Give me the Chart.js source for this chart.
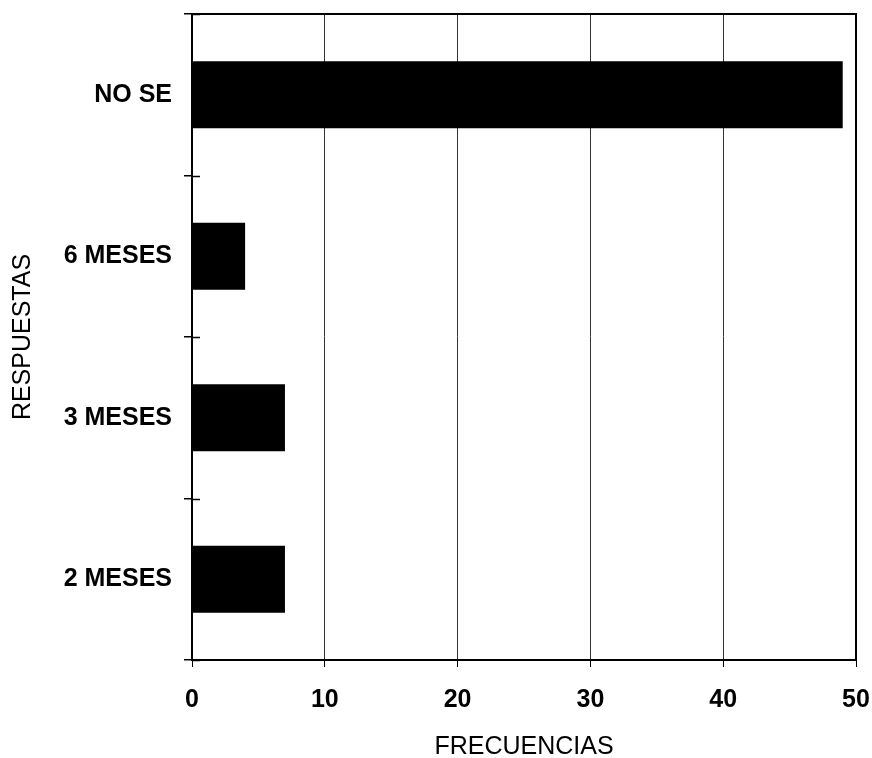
<!DOCTYPE html>
<html>
<head>
<meta charset="utf-8">
<script src="https://cdn.jsdelivr.net/npm/chart.js@4/dist/chart.umd.min.js"></script>
<style>
  html, body { margin: 0; padding: 0; background: #fff; }
  #wrap { width: 872px; height: 758px; position: relative; }
</style>
</head>
<body>
<div id="wrap"><canvas id="c" width="872" height="758"></canvas></div>
<script>
const categories = ["NO SE", "6 MESES", "3 MESES", "2 MESES"];
const frequencies = [49, 4, 7, 7];
const xTicks = [0, 10, 20, 30, 40, 50];
const xTitle = "FRECUENCIAS";
const yTitle = "RESPUESTAS";

const FONT = "'Liberation Sans', Arial, sans-serif";

const frameAndTicks = {
  id: 'frameAndTicks',
  afterDraw(chart) {
    const ctx = chart.ctx;
    const a = chart.chartArea;
    const y = chart.scales.y;
    ctx.save();
    ctx.strokeStyle = '#000';
    ctx.lineWidth = 2;
    ctx.beginPath();
    ctx.moveTo(a.left, a.top);
    ctx.lineTo(a.right, a.top);
    ctx.lineTo(a.right, a.bottom);
    ctx.stroke();
    ctx.lineWidth = 1.5;
    ctx.beginPath();
    for (let i = 0; i <= categories.length; i++) {
      const py = Math.round(y.getPixelForValue(i - 0.5)) + 0.5;
      ctx.moveTo(a.left, py);
      ctx.lineTo(a.left + 8, py);
    }
    ctx.stroke();
    ctx.restore();
  }
};

new Chart(document.getElementById('c'), {
  type: 'bar',
  data: {
    labels: categories,
    datasets: [{
      data: frequencies,
      backgroundColor: '#000',
      borderWidth: 0,
      barPercentage: 0.415,
      categoryPercentage: 1.0
    }]
  },
  options: {
    indexAxis: 'y',
    responsive: false,
    animation: false,
    devicePixelRatio: 1,
    layout: { padding: { top: 14, right: 16, left: 0, bottom: 0 } },
    plugins: { legend: { display: false }, tooltip: { enabled: false } },
    scales: {
      x: {
        type: 'linear',
        min: xTicks[0],
        max: xTicks[xTicks.length - 1],
        afterBuildTicks(s) { s.ticks = xTicks.map(v => ({ value: v })); },
        afterFit(s) { s.height = 98; s.paddingLeft = 0; s.paddingRight = 0; },
        grid: { color: '#333', lineWidth: 1, tickLength: 7, tickColor: '#000' },
        border: { color: '#000', width: 2 },
        ticks: { color: '#000', font: { family: FONT, size: 25, weight: 'bold' }, padding: 18 },
        title: { display: true, text: xTitle, color: '#000', font: { family: FONT, size: 25, lineHeight: 0.9 }, padding: { top: 0, bottom: 0 } }
      },
      y: {
        type: 'category',
        offset: true,
        afterFit(s) { s.width = 192; s.paddingTop = 0; s.paddingBottom = 0; },
        grid: { offset: true, drawOnChartArea: false, tickLength: 8, color: '#000', lineWidth: 1.5 },
        border: { color: '#000', width: 2 },
        ticks: { color: '#000', font: { family: FONT, size: 25, weight: 'bold' }, padding: 12 },
        title: { display: true, text: yTitle, color: '#000', font: { family: FONT, size: 25 }, padding: { top: 8, bottom: 0 } }
      }
    }
  },
  plugins: [frameAndTicks]
});
</script>
</body>
</html>
